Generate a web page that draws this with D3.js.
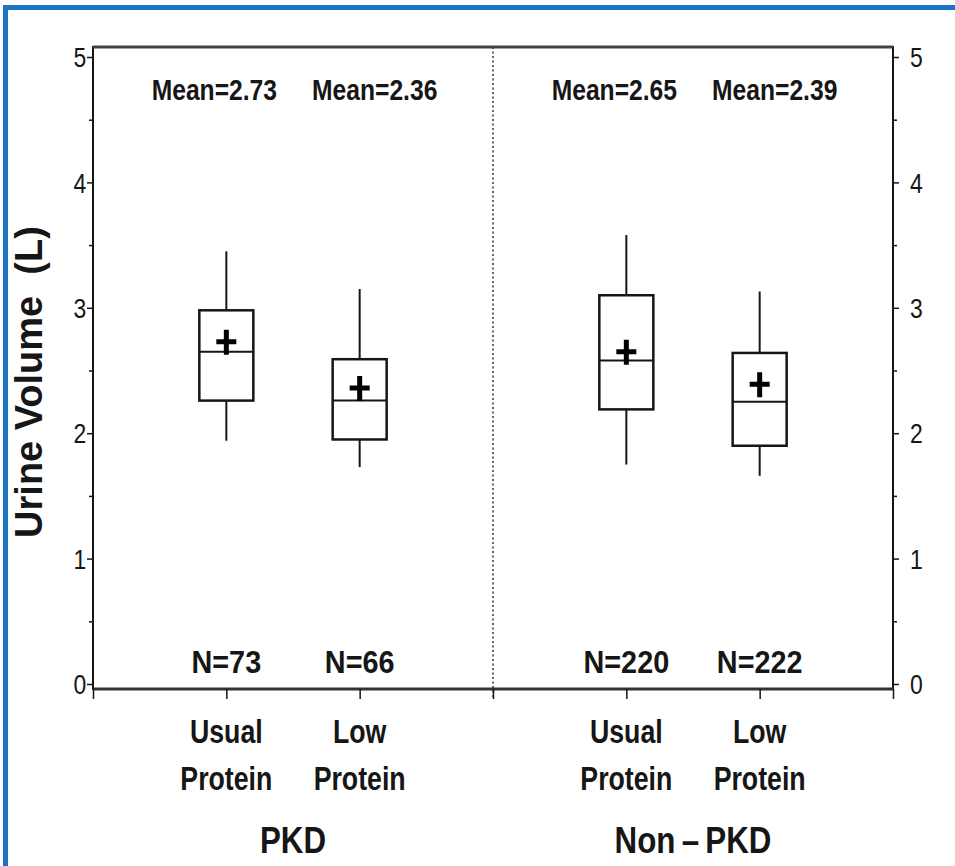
<!DOCTYPE html>
<html>
<head>
<meta charset="utf-8">
<script src="https://cdn.jsdelivr.net/npm/d3@7"></script>
<style>
  html, body { margin: 0; padding: 0; background: #fff; }
  svg { display: block; }
  text { font-family: "Liberation Sans", Arial, Helvetica, sans-serif; }
</style>
</head>
<body>
<svg id="chart" width="955" height="866"></svg>
<script>
/* ================================
   DATA
================================ */

const groups = ["PKD", "Non\u2009\u2013\u2009PKD"];
const diets = [["Usual", "Protein"], ["Low", "Protein"]];

// one value per box: PKD usual, PKD low, Non-PKD usual, Non-PKD low
const whiskerLow  = [1.94, 1.73, 1.75, 1.66];
const q1          = [2.26, 1.95, 2.19, 1.90];
const medians     = [2.65, 2.26, 2.58, 2.25];
const q3          = [2.98, 2.59, 3.10, 2.64];
const whiskerHigh = [3.45, 3.15, 3.58, 3.13];
const means       = [2.73, 2.36, 2.65, 2.39];
const counts      = [73, 66, 220, 222];

const yTicks = [0, 1, 2, 3, 4, 5];
const yMinorTicks = [0.5, 1.5, 2.5, 3.5, 4.5];

/* ================================
   LAYOUT
================================ */

const svg = d3.select("#chart");
const W = 955, H = 866;
const frame = { left: 93, right: 893, top: 47, bottom: 689 };

const x = d3.scaleLinear().domain([0, 6]).range([frame.left, frame.right]);
const y = d3.scaleLinear().domain([0, 5]).range([684, 57]);

const boxes = means.map((m, i) => {
  const g = Math.floor(i / 2), d = i % 2;
  return {
    slot: g * 3 + d + 1,
    diet: diets[d],
    lo: whiskerLow[i], q1: q1[i], med: medians[i], q3: q3[i], hi: whiskerHigh[i],
    mean: m, n: counts[i]
  };
});

const ink = "#161616";

// blue page border
svg.append("rect").attr("x", 0).attr("y", 0).attr("width", W).attr("height", H).attr("fill", "#fff");
svg.append("rect").attr("x", 3).attr("y", 5).attr("width", W).attr("height", 5).attr("fill", "#1b74c4");
svg.append("rect").attr("x", 3).attr("y", 5).attr("width", 5).attr("height", H).attr("fill", "#1b74c4");

// plot frame
svg.append("rect")
  .attr("x", frame.left).attr("y", frame.top)
  .attr("width", frame.right - frame.left).attr("height", frame.bottom - frame.top)
  .attr("fill", "none").attr("stroke", ink).attr("stroke-width", 2);
svg.append("line")
  .attr("x1", frame.left).attr("x2", frame.right)
  .attr("y1", frame.top).attr("y2", frame.top)
  .attr("stroke", "#444").attr("stroke-width", 3);
svg.append("line")
  .attr("x1", frame.left).attr("x2", frame.right)
  .attr("y1", frame.bottom).attr("y2", frame.bottom)
  .attr("stroke", "#333").attr("stroke-width", 3);

// dotted divider between groups
svg.append("line")
  .attr("x1", x(3)).attr("x2", x(3))
  .attr("y1", frame.top).attr("y2", frame.bottom + 10)
  .attr("stroke", "#333").attr("stroke-width", 1.5)
  .attr("stroke-dasharray", "2,2.5");

// left axis
const leftAxis = svg.append("g")
  .attr("transform", `translate(${frame.left},0)`)
  .call(d3.axisLeft(y).tickValues(yTicks).tickSize(6).tickPadding(2).tickFormat(d3.format("d")));
leftAxis.select(".domain").remove();
svg.append("g")
  .attr("transform", `translate(${frame.left},0)`)
  .call(d3.axisLeft(y).tickValues(yMinorTicks).tickSize(4).tickFormat(""))
  .select(".domain").remove();

// right axis
const rightAxis = svg.append("g")
  .attr("transform", `translate(${frame.right},0)`)
  .call(d3.axisRight(y).tickValues(yTicks).tickSize(6).tickPadding(14).tickFormat(d3.format("d")));
rightAxis.select(".domain").remove();
svg.append("g")
  .attr("transform", `translate(${frame.right},0)`)
  .call(d3.axisRight(y).tickValues(yMinorTicks).tickSize(4).tickFormat(""))
  .select(".domain").remove();

[leftAxis, rightAxis].forEach(a => {
  a.selectAll("text")
    .style("font-size", "27px")
    .attr("fill", ink)
    .attr("dy", "0.36em")
    .attr("transform", "scale(0.85,1)");
});
svg.selectAll(".tick line").attr("stroke", ink).attr("stroke-width", 1.5);

// bottom ticks
const bottomAxis = svg.append("g")
  .attr("transform", `translate(0,${frame.bottom})`)
  .call(d3.axisBottom(x).tickValues(d3.range(0, 7)).tickSize(10).tickFormat(""));
bottomAxis.select(".domain").remove();
bottomAxis.selectAll("line").attr("stroke", ink).attr("stroke-width", 1.5);

// y title
svg.append("text")
  .attr("transform", `translate(42,${382}) rotate(-90)`)
  .attr("text-anchor", "middle")
  .style("font-weight", "bold")
  .style("font-size", "38px")
  .style("white-space", "pre")
  .attr("fill", ink)
  .text("Urine Volume  (L)");

/* ================================
   BOXES
================================ */

const boxW = x(0.405) - x(0);

const bg = svg.append("g")
  .selectAll("g")
  .data(boxes)
  .join("g")
  .attr("stroke", ink)
  .attr("fill", "none");

bg.append("line")
  .attr("x1", d => x(d.slot)).attr("x2", d => x(d.slot))
  .attr("y1", d => y(d.hi)).attr("y2", d => y(d.q3))
  .attr("stroke-width", 2);
bg.append("line")
  .attr("x1", d => x(d.slot)).attr("x2", d => x(d.slot))
  .attr("y1", d => y(d.q1)).attr("y2", d => y(d.lo))
  .attr("stroke-width", 2);
bg.append("rect")
  .attr("x", d => x(d.slot) - boxW / 2)
  .attr("width", boxW)
  .attr("y", d => y(d.q3))
  .attr("height", d => y(d.q1) - y(d.q3))
  .attr("stroke-width", 2.5);
bg.append("line")
  .attr("x1", d => x(d.slot) - boxW / 2).attr("x2", d => x(d.slot) + boxW / 2)
  .attr("y1", d => y(d.med)).attr("y2", d => y(d.med))
  .attr("stroke-width", 2);
// mean cross
bg.append("path")
  .attr("d", d => {
    const cx = x(d.slot), cy = y(d.mean);
    return `M${cx - 10},${cy}H${cx + 10}M${cx},${cy - 12}V${cy + 13}`;
  })
  .attr("stroke", "#000")
  .attr("stroke-width", 5);

/* ================================
   LABELS (condensed bold, like the original)
================================ */

function narrowLabel(sel, px, fx, fy, squeeze) {
  return sel
    .attr("transform", (d, i) => `translate(${fx(d, i)},${fy}) scale(${squeeze},1)`)
    .attr("text-anchor", "middle")
    .style("font-weight", "bold")
    .style("font-size", px + "px")
    .attr("fill", ink);
}

svg.append("g").selectAll("text")
  .data(boxes)
  .join("text")
  .call(narrowLabel, 29, (d, i) => x(d.slot) + (i % 2 === 0 ? -12 : 15), 100, 0.85)
  .text(d => `Mean=${d.mean.toFixed(2)}`);

svg.append("g").selectAll("text")
  .data(boxes)
  .join("text")
  .call(narrowLabel, 32, d => x(d.slot), 673, 0.9)
  .text(d => `N=${d.n}`);

const catLabels = svg.append("g").selectAll("text")
  .data(boxes)
  .join("text")
  .call(narrowLabel, 33, d => x(d.slot), 743, 0.81);
catLabels.selectAll("tspan")
  .data(d => d.diet)
  .join("tspan")
  .attr("x", 0)
  .attr("dy", (d, i) => i === 0 ? 0 : 47)
  .text(d => d);

svg.append("g").selectAll("text")
  .data(groups)
  .join("text")
  .call(narrowLabel, 36, (d, i) => x(i * 3 + 1.5), 853, 0.87)
  .text(d => d);
</script>
</body>
</html>
